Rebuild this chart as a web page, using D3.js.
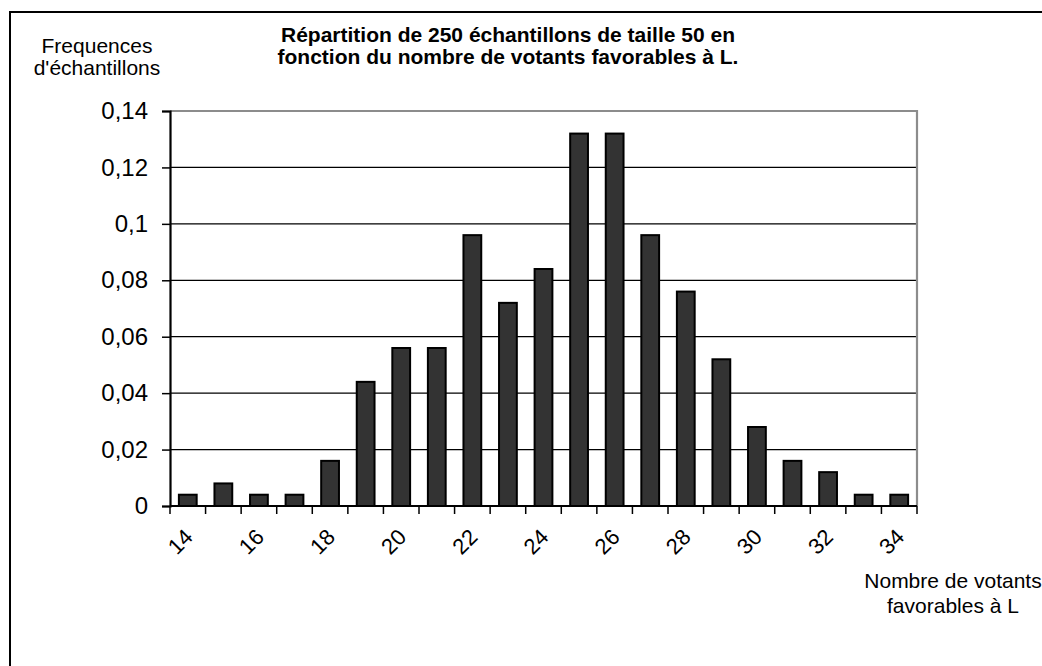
<!DOCTYPE html>
<html>
<head>
<meta charset="utf-8">
<script src="https://cdn.jsdelivr.net/npm/d3@7"></script>
<style>
  html, body { margin: 0; padding: 0; background: #fff; }
  svg { display: block; font-family: "Liberation Sans", Arial, sans-serif; }
</style>
</head>
<body>
<svg id="chart" width="1042" height="666"></svg>
<script>
// ---- data ----
const categories = [14,15,16,17,18,19,20,21,22,23,24,25,26,27,28,29,30,31,32,33,34];
const frequencies = [0.004,0.008,0.004,0.004,0.016,0.044,0.056,0.056,0.096,0.072,0.084,0.132,0.132,0.096,0.076,0.052,0.028,0.016,0.012,0.004,0.004];
const xTickLabels = [14,16,18,20,22,24,26,28,30,32,34];
const yTickValues = [0,0.02,0.04,0.06,0.08,0.1,0.12,0.14];
const titleLines = ["Répartition de 250 échantillons de taille 50 en", "fonction du nombre de votants favorables à L."];
const yTitleLines = ["Frequences", "d'échantillons"];
const xTitleLines = ["Nombre de votants", "favorables à L"];

// ---- layout ----
const svg = d3.select("#chart");
const plot = {left: 170, right: 917, top: 111, bottom: 506};

// outer chart border (right/bottom edges lie outside the viewport)
svg.append("rect").attr("x", 10).attr("y", 12).attr("width", 1100).attr("height", 700)
  .attr("fill", "#fff").attr("stroke", "#000").attr("stroke-width", 2);

const x = d3.scaleBand().domain(categories).range([plot.left, plot.right])
  .paddingInner(0.5).paddingOuter(0.25);
const y = d3.scaleLinear().domain([0, 0.14]).range([plot.bottom, plot.top]);

const fmt = d => d3.format(".2~f")(d).replace(".", ",");

// gridlines
svg.append("g").selectAll("line").data(yTickValues.filter(v => v > 0 && v < 0.14)).join("line")
  .attr("x1", plot.left).attr("x2", plot.right)
  .attr("y1", d => y(d)).attr("y2", d => y(d))
  .attr("stroke", "#000").attr("stroke-width", 1.2);

// plot area top/right border (gray)
svg.append("path")
  .attr("d", `M${plot.left},${y(0.14)}H${plot.right}V${y(0)}`)
  .attr("fill", "none").attr("stroke", "#8c8c8c").attr("stroke-width", 2.2);

// bars
svg.append("g").selectAll("rect").data(categories).join("rect")
  .attr("x", d => x(d))
  .attr("width", x.bandwidth())
  .attr("y", (d, i) => y(frequencies[i]))
  .attr("height", (d, i) => y(0) - y(frequencies[i]))
  .attr("fill", "#333333").attr("stroke", "#000").attr("stroke-width", 2);

// y axis
const yAxis = d3.axisLeft(y).tickValues(yTickValues).tickFormat(fmt).tickSize(8).tickPadding(14);
const gy = svg.append("g").attr("transform", `translate(${plot.left},0)`).call(yAxis);
gy.select(".domain").attr("stroke", "#000").attr("stroke-width", 2.2);
gy.selectAll(".tick line").attr("stroke", "#000").attr("stroke-width", 1.5);
gy.selectAll(".tick text").attr("font-size", 24).attr("fill", "#000")
  .attr("font-family", "Liberation Sans, Arial, sans-serif");

// x axis: baseline + ticks at band boundaries
const step = x.step();
const boundaries = categories.map(c => x(c) - step * x.paddingInner() / 2)
  .concat([x(categories[categories.length - 1]) + x.bandwidth() + step * x.paddingInner() / 2]);
svg.append("line").attr("x1", plot.left).attr("x2", plot.right)
  .attr("y1", y(0)).attr("y2", y(0)).attr("stroke", "#000").attr("stroke-width", 2.2);
svg.append("g").selectAll("line").data(boundaries).join("line")
  .attr("x1", d => d).attr("x2", d => d)
  .attr("y1", y(0)).attr("y2", y(0) + 8)
  .attr("stroke", "#000").attr("stroke-width", 1.5);

// x tick labels (rotated)
svg.append("g").selectAll("text").data(xTickLabels).join("text")
  .attr("transform", d => `translate(${x(d) + x.bandwidth() / 2 + 1},${y(0) + 27}) rotate(-45)`)
  .attr("text-anchor", "end").attr("dy", "0.35em")
  .attr("font-size", 22).attr("fill", "#000")
  .text(d => d);

// title
svg.append("g").selectAll("text").data(titleLines).join("text")
  .attr("x", 508).attr("y", (d, i) => 42 + i * 22)
  .attr("text-anchor", "middle").attr("font-weight", "bold").attr("font-size", 21)
  .attr("fill", "#000").text(d => d);

// y axis title
svg.append("g").selectAll("text").data(yTitleLines).join("text")
  .attr("x", 97).attr("y", (d, i) => 53 + i * 22)
  .attr("text-anchor", "middle").attr("font-size", 21).attr("fill", "#000").text(d => d);

// x axis title
svg.append("g").selectAll("text").data(xTitleLines).join("text")
  .attr("x", 953).attr("y", (d, i) => 588 + i * 25)
  .attr("text-anchor", "middle").attr("font-size", 21).attr("fill", "#000").text(d => d);
</script>
</body>
</html>
